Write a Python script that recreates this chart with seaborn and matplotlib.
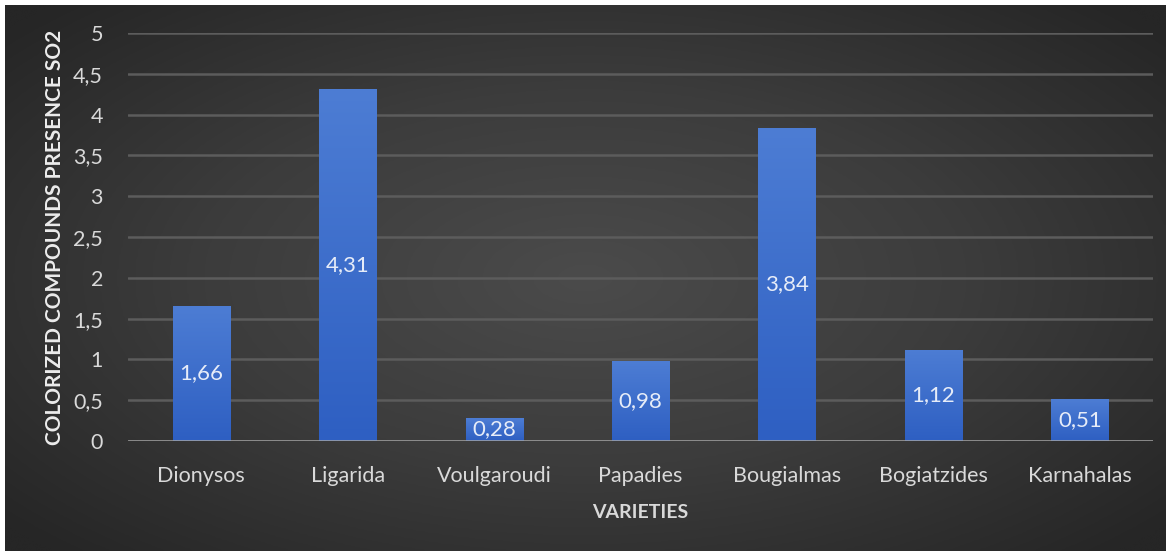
import numpy as np
import pandas as pd
import matplotlib
matplotlib.use("Agg")
import matplotlib.pyplot as plt
from matplotlib.colors import LinearSegmentedColormap
import seaborn as sns

varieties = ["Dionysos", "Ligarida", "Voulgaroudi", "Papadies",
             "Bougialmas", "Bogiatzides", "Karnahalas"]
so2_values = [1.66, 4.31, 0.28, 0.98, 3.84, 1.12, 0.51]
y_ticks = [0, 0.5, 1, 1.5, 2, 2.5, 3, 3.5, 4, 4.5, 5]

df = pd.DataFrame({"variety": varieties, "value": so2_values})

sns.set_theme(style="dark")
plt.rcParams["font.family"] = ["Lato", "DejaVu Sans"]

W, H = 1171, 551
fig = plt.figure(figsize=(W / 100, H / 100), dpi=100, facecolor="white")

# dark radial backdrop
bg = fig.add_axes([5 / W, 0 / H, 1161 / W, 546 / H], zorder=-5)
yy, xx = np.mgrid[-1:1:300j, -1:1:600j]
r = np.sqrt((xx * 0.95) ** 2 + (yy * 0.9) ** 2)
bg_cmap = LinearSegmentedColormap.from_list("bg", ["#4b4b4b", "#3c3c3c", "#262626"])
bg.imshow(np.clip(r / 1.25, 0, 1), cmap=bg_cmap, vmin=0, vmax=1,
          aspect="auto", extent=[0, 1, 0, 1], interpolation="bicubic")
bg.set_axis_off()

ax = fig.add_axes([128 / W, 1 - 441 / H, 1025 / W, 408 / H])
ax.patch.set_alpha(0)

sns.barplot(data=df, x="variety", y="value", color="#3566c8",
            width=0.39, saturation=1, ax=ax, zorder=3)

# vertical blue gradient on each bar
grad = np.linspace(0, 1, 256).reshape(-1, 1)
bar_cmap = LinearSegmentedColormap.from_list("bar", ["#2e5fc2", "#4d7dd4"])
for patch in ax.patches:
    x0, y0 = patch.get_x(), patch.get_y()
    w, h = patch.get_width(), patch.get_height()
    im = ax.imshow(grad, cmap=bar_cmap, aspect="auto", origin="lower",
                   extent=[x0, x0 + w, y0, y0 + h], zorder=4)
    im.set_clip_path(patch)
    patch.set_edgecolor("none")

for i, v in enumerate(so2_values):
    ax.text(i, v / 2, f"{v:.2f}".replace(".", ","), ha="center", va="center",
            color="#e6ecf8", fontsize=16, zorder=6)

ax.set_xlim(-0.5, len(varieties) - 0.5)
ax.set_ylim(0, 5)
ax.set_yticks(y_ticks)
ax.set_yticklabels([f"{t:g}".replace(".", ",") for t in y_ticks])
for t in y_ticks[1:]:
    ax.axhline(t, color="#5c5c5c", lw=1.8, zorder=1)
ax.axhline(0, color="#a6a6a6", lw=1.8, zorder=5)
ax.grid(False)
for s in ax.spines.values():
    s.set_visible(False)
ax.tick_params(axis="both", length=0, colors="#d9d9d9", labelsize=15.5)
ax.tick_params(axis="y", pad=18)
ax.tick_params(axis="x", pad=18)

ax.set_xlabel("VARIETIES", color="#d9d9d9", fontsize=14, fontweight="bold", labelpad=13)
ax.set_ylabel("COLORIZED COMPOUNDS PRESENCE SO2", color="#ececec",
              fontsize=15, fontweight="bold", labelpad=6)

fig.savefig("out.png", dpi=100, facecolor="white")
